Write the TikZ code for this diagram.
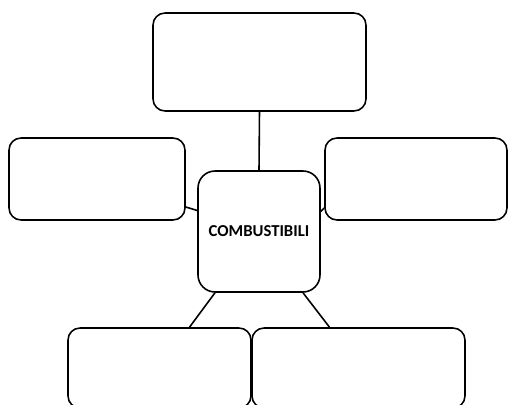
\documentclass[tikz,border=0pt]{standalone}
\usepackage{fontspec}
\setmainfont{Carlito}
\usetikzlibrary{calc}

\begin{document}
\begin{tikzpicture}[x=0.02cm,y=-0.02cm,
  box/.style={draw,line width=0.9pt,rounded corners=0.24cm,inner sep=0pt},
  centro/.style={box,rounded corners=0.34cm,font=\bfseries\fontsize{9.5}{11}\selectfont}]
  \useasboundingbox (0,0) rectangle (508,405);
  % caselle
  \node[box,minimum width=4.26cm,minimum height=1.96cm] (sopra) at (259.5,62) {};
  \node[box,minimum width=3.52cm,minimum height=1.64cm] (sx) at (97,179) {};
  \node[box,minimum width=3.64cm,minimum height=1.64cm] (dx) at (416,179) {};
  \node[centro,minimum width=2.44cm,minimum height=2.42cm] (comb) at (259,231.5) {COMBUSTIBILI};
  \node[box,minimum width=3.66cm,minimum height=1.6cm] (bsx) at (159.5,368) {};
  \node[box,minimum width=4.26cm,minimum height=1.6cm] (bdx) at (358.5,368) {};
  % collegamenti
  \draw[line width=0.9pt] (sopra.south) -- (comb.north);
  \draw[line width=0.9pt] ($(sx.east)+(0,28)$) -- ($(comb.west)+(0,-21)$);
  \draw[line width=0.9pt] ($(comb.east)+(0,-20)$) -- ($(dx.west)+(0,29)$);
  \draw[line width=0.9pt] ($(comb.south)+(-44,0)$) -- ($(bsx.north)+(30,0)$);
  \draw[line width=0.9pt] ($(comb.south)+(44,0)$) -- ($(bdx.north)+(-29,0)$);
\end{tikzpicture}
\end{document}
